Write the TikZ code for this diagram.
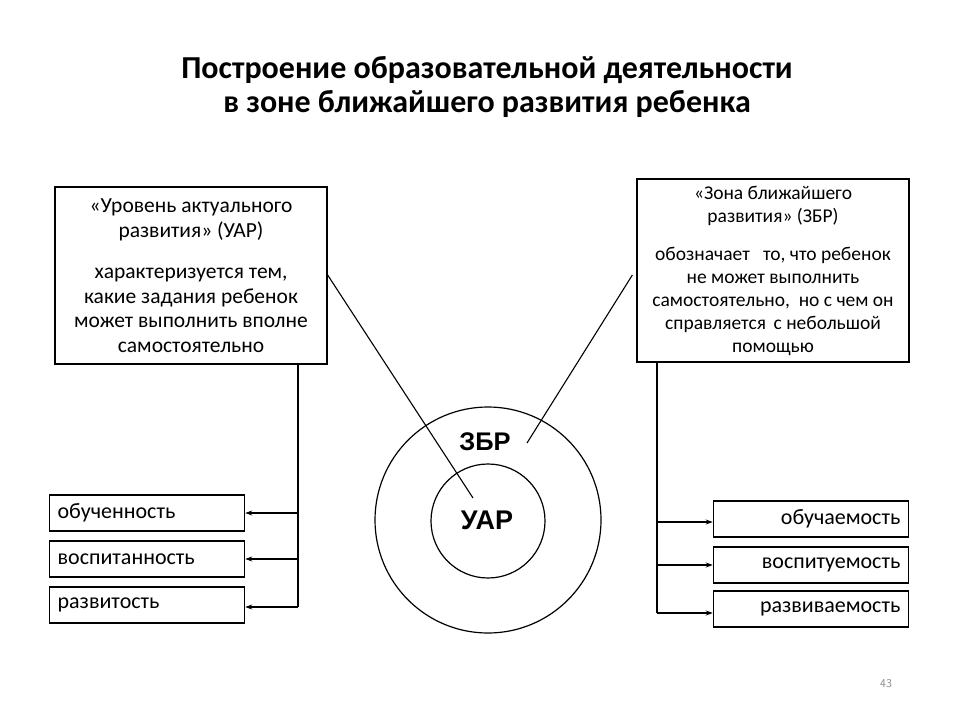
\documentclass[tikz,border=0pt]{standalone}
\usepackage{fontspec}
\setmainfont{Carlito}
\newfontfamily\circfont{Liberation Sans}
\usetikzlibrary{arrows.meta}
\tikzset{
  bigbox/.style={draw, line width=1.3pt, minimum width=272pt, inner sep=0pt, align=center,
    font=\fontsize{21.5}{24.5}\selectfont},
  smallbox/.style={draw, line width=1.3pt, minimum width=195pt, minimum height=36pt, inner sep=8pt,
    font=\fontsize{22}{24}\selectfont},
  conn/.style={line width=1.1pt},
  arr/.style={line width=1.1pt, -{Stealth[length=7pt,width=5pt]}},
  ring/.style={draw, circle, line width=1.2pt, inner sep=0pt},
}
\begin{document}
\begin{tikzpicture}[x=1pt,y=-1pt]
\useasboundingbox (0,0) rectangle (960,720);
\fill[white] (0,0) rectangle (960,720);
% title
\node[font=\bfseries\fontsize{32}{34}\selectfont, align=center] (title) at (487,87)
  {Построение образовательной деятельности\\в зоне ближайшего развития ребенка};
% big boxes
\node[bigbox, minimum height=177pt] (lbox) at (191,275.5)
  {«Уровень актуального\\развития» (УАР)\\[17pt]характеризуется тем,\\какие задания ребенок\\может выполнить вполне\\самостоятельно};
\node[bigbox, minimum height=183pt, font=\fontsize{19.5}{23}\selectfont] (rbox) at (773,270.5)
  {«Зона ближайшего\\развития» (ЗБР)\\[15pt]обозначает \ \ то, что ребенок\\не может выполнить\\самостоятельно, \ но с чем он\\справляется \,с небольшой\\помощью};
% circles
\node[ring, minimum size=226pt] (outer) at (488,520) {};
\node[ring, minimum size=114pt] (inner) at (488,521) {};
\node[font=\circfont\bfseries\fontsize{25.5}{30}\selectfont] (zbr) at (485,442) {ЗБР};
\node[font=\circfont\bfseries\fontsize{27}{30}\selectfont] (uar) at (487,520) {УАР};
% connectors to circles
\coordinate (lend) at (473,498);
\coordinate (rend) at (527,443);
\draw[conn] (lbox.east) ++(0,-0.5) coordinate (lstart) (lstart) -- (lend);
\draw[conn] (rbox.west) ++(-4,4.5) coordinate (rstart) (rstart) -- (rend);
% left small boxes
\node[smallbox, anchor=west, text width=179pt, align=left] (l1) at (49,513) {обученность};
\node[smallbox, anchor=west, text width=179pt, align=left] (l2) at (49,559) {воспитанность};
\node[smallbox, anchor=west, text width=179pt, align=left] (l3) at (49,605) {развитость};
% right small boxes
\node[smallbox, anchor=east, text width=179pt, align=right] (r1) at (909,519) {обучаемость};
\node[smallbox, anchor=east, text width=179pt, align=right] (r2) at (909,565) {воспитуемость};
\node[smallbox, anchor=east, text width=179pt, align=right] (r3) at (909,609) {развиваемость};
% left stem
\coordinate (ltop) at (298,365);
\coordinate (lb1) at (298,513);
\coordinate (lb2) at (298,559);
\coordinate (lb3) at (298,607);
\draw[conn] (ltop) -- (lb3);
\draw[arr] (lb1) -- (l1.east |- lb1);
\draw[arr] (lb2) -- (l2.east |- lb2);
\draw[arr] (lb3) -- (l3.east |- lb3);
% right stem
\coordinate (rtop) at (657,362);
\coordinate (rb1) at (657,522);
\coordinate (rb2) at (657,565);
\coordinate (rb3) at (657,613);
\draw[conn] (rtop) -- (rb3);
\draw[arr] (rb1) -- (r1.west |- rb1);
\draw[arr] (rb2) -- (r2.west |- rb2);
\draw[arr] (rb3) -- (r3.west |- rb3);
% page number
\node[font=\sffamily\fontsize{12}{14}\selectfont, text=black!45] (pnum) at (886,684) {43};
\end{tikzpicture}
\end{document}
